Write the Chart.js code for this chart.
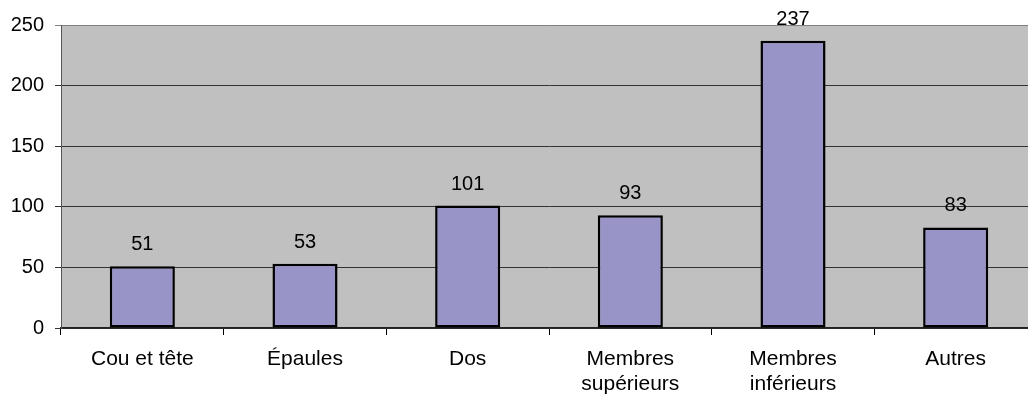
<!DOCTYPE html>
<html>
<head>
<meta charset="utf-8">
<script src="https://cdn.jsdelivr.net/npm/chart.js@4"></script>
<style>
  html, body { margin: 0; padding: 0; background: #fff; overflow: hidden; }
  #wrap { width: 1040px; height: 398px; position: relative; }
</style>
</head>
<body>
<div id="wrap"><canvas id="chart"></canvas></div>
<script>
const categories = ["Cou et tête", "Épaules", "Dos", ["Membres", "supérieurs"], ["Membres", "inférieurs"], "Autres"];
const values = [51, 53, 101, 93, 237, 83];
const yTicks = [0, 50, 100, 150, 200, 250];

const FONT = "'Liberation Sans', Arial, sans-serif";

// gray plot background
const plotBg = {
  id: "plotBg",
  beforeDraw(chart) {
    const { ctx, chartArea: a } = chart;
    ctx.save();
    ctx.fillStyle = "#c0c0c0";
    ctx.fillRect(a.left, a.top, a.right - a.left, a.bottom - a.top);
    ctx.restore();
  }
};

// value labels above bars
const barLabels = {
  id: "barLabels",
  afterDatasetsDraw(chart) {
    const { ctx } = chart;
    const meta = chart.getDatasetMeta(0);
    ctx.save();
    ctx.font = "20px " + FONT;
    ctx.fillStyle = "#000";
    ctx.textAlign = "center";
    ctx.textBaseline = "alphabetic";
    meta.data.forEach((bar, i) => {
      ctx.fillText(values[i], bar.x, bar.y - 16);
    });
    ctx.restore();
  }
};

new Chart(document.getElementById("chart").getContext("2d"), {
  type: "bar",
  data: {
    labels: categories,
    datasets: [{
      data: values,
      backgroundColor: "#9894c8",
      borderColor: "#000",
      borderWidth: 2.5,
      borderSkipped: false,
      categoryPercentage: 1,
      barPercentage: 0.4
    }]
  },
  options: {
    responsive: true,
    maintainAspectRatio: false,
    animation: false,
    layout: { padding: { left: 0, top: 25, right: 3, bottom: 0 } },
    plugins: { legend: { display: false }, tooltip: { enabled: false } },
    scales: {
      x: {
        afterFit: (s) => { s.height = 70; },
        border: { color: "#222", width: 1.5 },
        grid: { offset: true, drawOnChartArea: false, tickLength: 7, color: "#000" },
        ticks: {
          color: "#000",
          font: { family: FONT, size: 21, lineHeight: 1.22 },
          padding: 11,
          maxRotation: 0,
          autoSkip: false
        }
      },
      y: {
        min: 0,
        max: 250,
        afterFit: (s) => { s.width = 61; },
        afterBuildTicks: (s) => { s.ticks = yTicks.map(v => ({ value: v })); },
        border: { color: "#555", width: 1 },
        grid: {
          tickLength: 6,
          color: (c) => (c.tick && c.tick.value === 250 ? "#808080" : "#333")
        },
        ticks: {
          color: "#000",
          font: { family: FONT, size: 20 },
          padding: 11
        }
      }
    }
  },
  plugins: [plotBg, barLabels]
});
</script>
</body>
</html>
